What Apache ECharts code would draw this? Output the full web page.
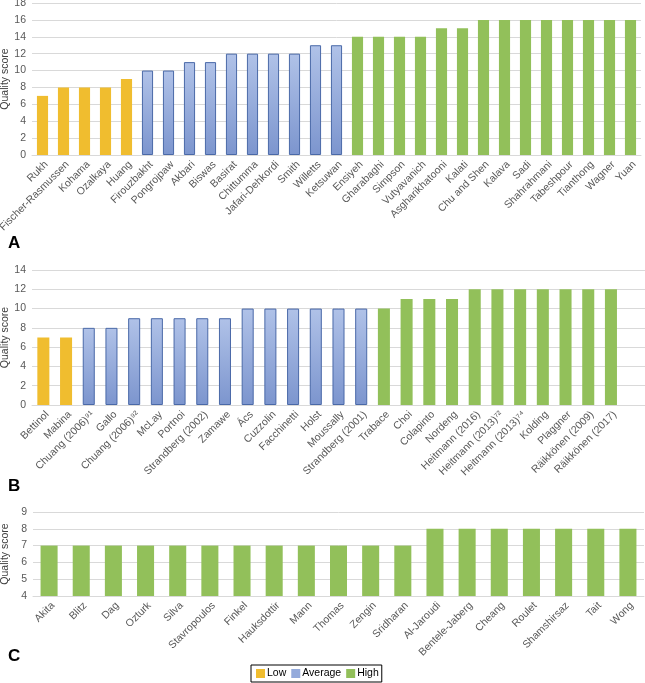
<!DOCTYPE html>
<html>
<head>
<meta charset="utf-8">
<script src="https://cdn.jsdelivr.net/npm/echarts@6/dist/echarts.min.js"></script>
<style>html,body{margin:0;padding:0;background:#fff}#c{width:645px;height:683px}</style>
</head>
<body>
<div id="c"></div>
<script>
// Panel A
var aNames = ['Rukh','Fischer-Rasmussen','Kohama','Ozalkaya','Huang','Firouzbakht','Pongrojpaw','Akbari','Biswas','Basirat','Chittumma','Jafari-Dehkordi','Smith','Willetts','Ketsuwan','Ensiyeh','Gharabaghi','Simpson','Vutyavanich','Asgharikhatooni','Kalati','Chu and Shen','Kalava','Sadi','Shahrahmani','Tabeshpour','Tianthong','Wagner','Yuan'];
var aScores = [7,8,8,8,9,10,10,11,11,12,12,12,12,13,13,14,14,14,14,15,15,16,16,16,16,16,16,16,16];
var aLevels = ['Low','Low','Low','Low','Low','Average','Average','Average','Average','Average','Average','Average','Average','Average','Average','High','High','High','High','High','High','High','High','High','High','High','High','High','High'];
// Panel B
var bNames = ['Bettinol','Mabina','Chuang (2006)\u2079\u00b9','Gallo','Chuang (2006)\u2079\u00b2','McLay','Portnoi','Strandberg (2002)','Zamawe','\u00c1cs','Cuzzolin','Facchinetti','Holst','Moussally','Strandberg (2001)','Trabace','Choi','Colapinto','Nordeng','Heitmann (2016)','Heitmann (2013)\u2077\u00b2','Heitmann (2013)\u2077\u2074','Kolding','Plaggner','R\u00e4ikk\u00f6nen (2009)','R\u00e4ikk\u00f6nen (2017)'];
var bScores = [7,7,8,8,9,9,9,9,9,10,10,10,10,10,10,10,11,11,11,12,12,12,12,12,12,12];
var bLevels = ['Low','Low','Average','Average','Average','Average','Average','Average','Average','Average','Average','Average','Average','Average','Average','High','High','High','High','High','High','High','High','High','High','High'];
// Panel C
var cNames = ['Akita','Blitz','Dag','Ozturk','Silva','Stavropoulos','Finkel','Hauksdottir','Mann','Thomas','Zengin','Sridharan','Al-Jaroudi','Bentele-Jaberg','Cheang','Roulet','Shamshirsaz','Tait','Wong'];
var cScores = [7,7,7,7,7,7,7,7,7,7,7,7,8,8,8,8,8,8,8];
var cLevels = ['High','High','High','High','High','High','High','High','High','High','High','High','High','High','High','High','High','High','High'];
// Axis ticks
var aTicks = {min:0, max:18, interval:2};
var bTicks = {min:0, max:14, interval:2};
var cTicks = {min:4, max:9, interval:1};
var levelNames = ['Low','Average','High'];

var FONT = 'Liberation Sans, Arial, sans-serif';
var styles = {
  Low: {color:'#F0BD2F'},
  Average: {color:{type:'linear',x:0,y:0,x2:0,y2:1,colorStops:[{offset:0,color:'#B0C2E8'},{offset:1,color:'#7C95CE'}]}, borderColor:'#4A69A8', borderWidth:1},
  High: {color:'#92C05A'}
};
var legendColors = {Low:'#F0BD2F', Average:'#94AADB', High:'#92C05A'};

var grids = [
  {left:32, right:4, top:3, height:152},
  {left:32, right:0, top:270, height:135},
  {left:33, right:1, top:512, height:84}
];
grids.forEach(function(g){ g.containLabel = false; g.outerBoundsMode = 'none'; });
var panels = [
  {names:aNames, scores:aScores, levels:aLevels, ticks:aTicks},
  {names:bNames, scores:bScores, levels:bLevels, ticks:bTicks, extra:1},
  {names:cNames, scores:cScores, levels:cLevels, ticks:cTicks}
];

var xAxes = [], yAxes = [], series = [];
panels.forEach(function(p, i){
  var xa = {
    type:'category', gridIndex:i, data:p.names,
    axisLine:{lineStyle:{color:'#D9D9D9'}}, axisTick:{show:false},
    axisLabel:{rotate:45, interval:0, fontFamily:FONT, fontSize:10.5, color:'#595959', margin:4,
      verticalAlign:'top',
      formatter:function(v){return v==null?'':v;}}
  };
  if (p.extra) xa.max = p.names.length - 1 + p.extra;
  xAxes.push(xa);
  yAxes.push({
    type:'value', gridIndex:i, min:p.ticks.min, max:p.ticks.max, interval:p.ticks.interval,
    name:'Quality score', nameLocation:'middle', nameGap:i===2 ? 22 : 21, nameMoveOverlap:false,
    nameTextStyle:{fontFamily:FONT, fontSize:10.5, color:'#404040'},
    axisLine:{show:false}, axisTick:{show:false},
    axisLabel:{fontFamily:FONT, fontSize:10.5, color:'#595959', margin:6},
    splitLine:{lineStyle:{color:'#D9D9D9'}}
  });
  levelNames.forEach(function(lv){
    series.push({
      type:'bar', name:lv, xAxisIndex:i, yAxisIndex:i,
      barWidth:'53%', barGap:'-100%',
      itemStyle:styles[lv],
      data:p.scores.map(function(s, k){return p.levels[k]===lv ? s : null;})
    });
  });
});

var chart = echarts.init(document.getElementById('c'), null, {renderer:'canvas'});
chart.setOption({
  animation:false,
  backgroundColor:'#fff',
  grid:grids,
  xAxis:xAxes,
  yAxis:yAxes,
  series:series,
  title:[
    {text:'A', left:3, top:230, textStyle:{fontFamily:FONT, fontWeight:'bold', fontSize:17, color:'#000'}},
    {text:'B', left:3, top:473, textStyle:{fontFamily:FONT, fontWeight:'bold', fontSize:17, color:'#000'}},
    {text:'C', left:3, top:643, textStyle:{fontFamily:FONT, fontWeight:'bold', fontSize:17, color:'#000'}}
  ],
  legend:{
    data:levelNames.map(function(n){return {name:n, itemStyle:{color:legendColors[n], borderWidth:0}};}),
    left:251, top:665, icon:'rect', itemWidth:9, itemHeight:9, itemGap:5,
    borderColor:'#000', borderWidth:1, padding:[3,3,3,5],
    textStyle:{fontFamily:FONT, fontSize:10.5, color:'#000', padding:[0,0,0,-3]}
  }
});
</script>
</body>
</html>
